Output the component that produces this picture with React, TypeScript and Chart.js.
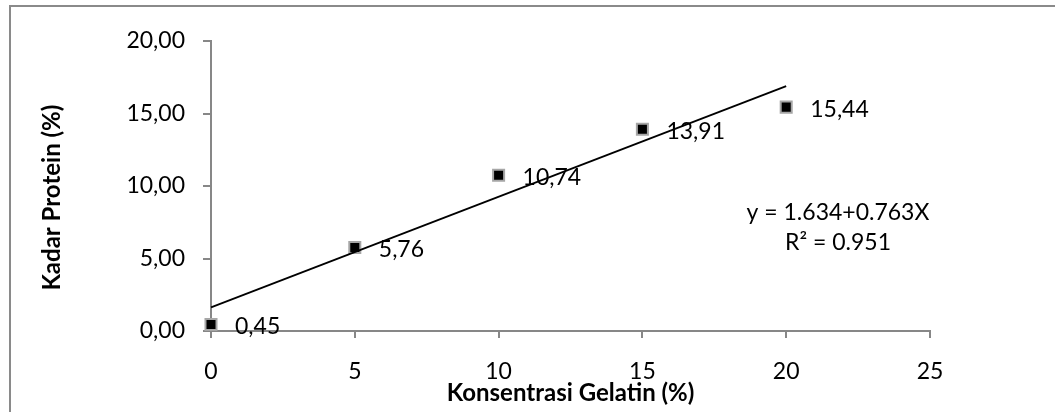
import React, { useEffect, useRef } from "react";
import { Chart, registerables } from "chart.js";

Chart.register(...registerables);

const concentrations = [0, 5, 10, 15, 20];
const protein = [0.45, 5.76, 10.74, 13.91, 15.44];
const trendIntercept = 1.634;
const trendSlope = 0.763;
const trendRange = [0, 20];
const equationLines = ["y = 1.634+0.763X", "R² = 0.951"];
const equationAnchor = { x: 21.8, y: 8.2 };
const xTitle = "Konsentrasi Gelatin (%)";
const yTitle = "Kadar Protein (%)";
const yTitleAnchor = 9.2;

const FONT = "Lato, 'Open Sans', sans-serif";
const GRAY = "#878787";

const fmt = (v: number) => v.toFixed(2).replace(".", ",");

export default function App() {
  const ref = useRef<HTMLCanvasElement | null>(null);

  useEffect(() => {
    if (!ref.current) return;
    const labelPlugin = {
      id: "labels",
      beforeDatasetsDraw(chart: any) {
        const ctx = chart.ctx;
        const meta = chart.getDatasetMeta(1);
        ctx.save();
        ctx.font = `23px ${FONT}`;
        ctx.fillStyle = "#000";
        ctx.textAlign = "left";
        ctx.textBaseline = "middle";
        meta.data.forEach((pt: any, i: number) => {
          ctx.fillText(fmt(protein[i]), pt.x + 24, pt.y + 2);
        });
        const xs = chart.scales.x;
        const ys = chart.scales.y;
        const ex = xs.getPixelForValue(equationAnchor.x);
        const ey = ys.getPixelForValue(equationAnchor.y);
        ctx.textAlign = "center";
        equationLines.forEach((t, i) => ctx.fillText(t, ex, ey + i * 30));
        // y axis title
        ctx.translate(52, ys.getPixelForValue(yTitleAnchor));
        ctx.rotate(-Math.PI / 2);
        ctx.font = `bold 24px ${FONT}`;
        ctx.fillText(yTitle, 0, 0);
        ctx.restore();
      },
    };

    const chart = new Chart(ref.current, {
      type: "scatter",
      data: {
        datasets: [
          {
            type: "line",
            data: trendRange.map((x) => ({ x, y: trendIntercept + trendSlope * x })),
            borderColor: "#000",
            borderWidth: 1.8,
            pointRadius: 0,
            fill: false,
            order: 0,
            clip: false,
          } as any,
          {
            data: concentrations.map((x, i) => ({ x, y: protein[i] })),
            pointStyle: "rect",
            pointRadius: 7.8,
            pointBackgroundColor: "#000",
            pointBorderColor: "#a6a6a6",
            pointBorderWidth: 2,
            order: 1,
            clip: false,
          } as any,
        ],
      },
      options: {
        responsive: false,
        animation: false,
        devicePixelRatio: 1,
        layout: { padding: { left: 0, top: 41, right: 125, bottom: 0 } },
        plugins: { legend: { display: false }, tooltip: { enabled: false } },
        scales: {
          x: {
            type: "linear",
            min: 0,
            max: 25,
            ticks: { stepSize: 5, color: "#000", font: { family: FONT, size: 23 }, padding: 20 },
            grid: { drawOnChartArea: false, drawTicks: true, tickLength: 7, color: GRAY, lineWidth: 2 },
            border: { display: true, color: GRAY, width: 2 },
            title: {
              display: true,
              text: xTitle,
              color: "#000",
              font: { family: FONT, size: 24, weight: "bold" },
              padding: { top: 0, bottom: 4 },
            },
            afterFit: (s: any) => {
              s.height = 81;
            },
          },
          y: {
            type: "linear",
            min: 0,
            max: 20,
            ticks: {
              stepSize: 5,
              color: "#000",
              font: { family: FONT, size: 23 },
              padding: 18,
              callback: (v: any) => fmt(Number(v)),
            },
            grid: { drawOnChartArea: false, drawTicks: true, tickLength: 8, color: GRAY, lineWidth: 2 },
            border: { display: true, color: GRAY, width: 2 },
            title: { display: false },
            afterFit: (s: any) => {
              s.width = 211;
            },
          },
        },
      } as any,
      plugins: [labelPlugin],
    });
    return () => chart.destroy();
  }, []);

  return (
    <div style={{ position: "absolute", left: 0, top: 0, width: 1055, height: 412, overflow: "hidden", background: "#fff" }}>
      <div
        style={{
          position: "absolute",
          left: 9,
          top: 5,
          width: 1200,
          height: 600,
          border: "2px solid #8a8a8a",
          boxSizing: "border-box",
        }}
      />
      <canvas ref={ref} width={1055} height={412} style={{ position: "absolute", left: 0, top: 0 }} />
    </div>
  );
}
